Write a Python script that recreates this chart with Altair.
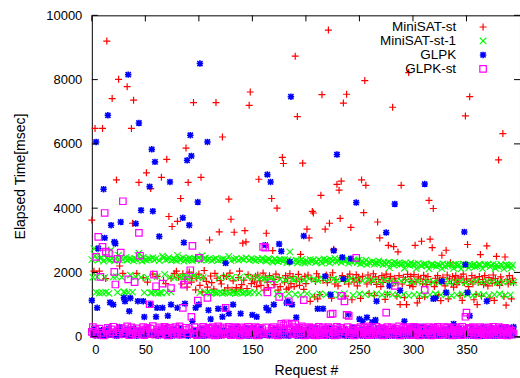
import altair as alt
import pandas as pd

# ---- data: elapsed time [msec] per request #, one value per request ----
minisat_st = [
    3630, 160, 2040, 6480, 110, 90, 170, 2040, 130, 140,
    6480, 100, 150, 1810, 9200, 120, 80, 140, 110, 7410,
    150, 90, 130, 4880, 100, 8010, 2200, 140, 120, 1970,
    110, 170, 90, 7780, 130, 100, 150, 6480, 3530, 7360,
    120, 140, 1970, 110, 4800, 160, 130, 90, 1830, 150,
    120, 5100, 1700, 140, 100, 4610, 130, 1950, 110, 170,
    90, 1880, 150, 120, 100, 4960, 140, 1750, 130, 1650,
    5520, 110, 3740, 160, 1820, 3430, 120, 1970, 140, 2040,
    3590, 1850, 150, 4300, 1640, 1960, 130, 1780, 5870, 1540,
    4800, 2010, 140, 1700, 1890, 7285, 120, 1460, 1820, 160,
    1950, 1600, 4960, 1395, 1830, 2060, 150, 1720, 1540, 130,
    3010, 1890, 1680, 120, 1480, 1970, 7285, 1820, 140, 3260,
    1750, 1640, 6215, 1900, 1440, 160, 1870, 1520, 4280, 1980,
    3655, 1450, 1740, 3250, 1400, 1530, 130, 1840, 2040, 1480,
    1620, 2910, 1760, 3300, 2950, 1500, 1930, 7200, 7615, 1650,
    1820, 140, 1700, 1880, 1560, 1920, 4900, 1740, 1600, 120,
    1980, 1450, 1850, 3220, 1700, 1530, 1900, 150, 4300, 2680,
    1780, 1620, 1950, 4000, 1450, 1840, 1560, 130, 5580, 5390,
    1700, 1900, 1480, 1820, 1520, 1960, 1650, 140, 1870, 1560,
    8730, 1730, 6850, 1940, 1600, 2560, 1790, 5400, 1470, 1880,
    1650, 3345, 1920, 3075, 1100, 1800, 3900, 3850, 1240, 1720,
    1960, 1180, 1860, 1310, 4400, 7530, 1750, 160, 3345, 1920,
    1680, 9540, 3530, 1850, 1200, 1990, 2720, 1640, 1780, 4740,
    1580, 4560, 3680, 4840, 1900, 7270, 1720, 1260, 7545, 1860,
    1640, 1950, 3400, 1150, 1810, 1700, 140, 1930, 1580, 1850,
    1730, 1190, 4880, 1880, 3860, 7970, 4710, 1640, 1920, 1350,
    1820, 1700, 150, 1960, 1280, 1860, 1630, 3570, 1780, 3075,
    1560, 1900, 1690, 1830, 1160, 1950, 1320, 2845, 1740, 1880,
    1580, 7140, 2805, 1820, 1700, 1260, 2640, 1900, 1000, 4710,
    1640, 1850, 1220, 1780, 1000, 1940, 8220, 1600, 1880, 1720,
    1560, 1930, 2845, 1700, 1050, 1860, 1190, 1800, 2970, 1650,
    1910, 1240, 1780, 1620, 1870, 4240, 3035, 1700, 2770, 3990,
    1560, 1820, 1680, 1900, 1300, 1760, 1120, 2535, 1850, 1710,
    1580, 2690, 1920, 1180, 1800, 2300, 1650, 1870, 1540, 1760,
    1900, 1620, 1820, 1700, 1280, 1860, 1130, 1950, 1680, 6870,
    1800, 2870, 1560, 7470, 1720, 1900, 1640, 1150, 1830, 1320,
    1000, 1690, 1870, 2555, 1260, 1780, 1620, 1900, 1700, 2825,
    1580, 1840, 1200, 1760, 1660, 1920, 1130, 1810, 2500, 1680,
    5500, 1600, 1860, 1720, 6320, 1250, 2480, 980, 1780, 1640,
    1900, 1700, 1180, 1820, 1680,
]

minisat_st_1 = [
    2400, 1850, 2740, 2520, 1380, 1860, 2380, 1360, 2430, 2470,
    1370, 2350, 1840, 1390, 2450, 2410, 1350, 2380, 2700, 2440,
    1860, 2360, 2420, 1870, 1380, 2540, 2390, 2450, 1850, 2400,
    1400, 1360, 2470, 2380, 1370, 2430, 1920, 2410, 1390, 2360,
    2440, 1860, 2390, 2530, 2600, 2420, 1850, 2350, 2470, 1370,
    2400, 2380, 1840, 2440, 2410, 1360, 1380, 2460, 2390, 1390,
    2430, 1870, 1350, 2370, 1380, 1360, 2510, 2450, 1940, 2390,
    1370, 2410, 2460, 1850, 1390, 2380, 2430, 1830, 2400, 2370,
    2530, 1860, 2410, 2390, 1850, 2460, 2350, 1870, 2420, 1840,
    2380, 2450, 1830, 2400, 2370, 1900, 2430, 2410, 2390, 1850,
    2460, 1370, 2380, 2520, 1840, 2400, 2450, 1360, 2390, 1380,
    2430, 1350, 2370, 1390, 2410, 1370, 2440, 1360, 2380, 1840,
    1380, 2400, 1350, 2420, 1370, 2390, 1860, 1390, 2500, 1360,
    2370, 1850, 1380, 2410, 1350, 2440, 1370, 2380, 1840, 1390,
    2420, 1360, 2400, 1380, 2450, 1870, 1350, 2390, 1370, 2430,
    1840, 2400, 1390, 2370, 1850, 2420, 1360, 2380, 1830, 2440,
    2410, 1800, 2380, 2350, 1760, 2430, 2400, 1820, 2360, 2320,
    1780, 2420, 2370, 1330, 2340, 2400, 1790, 2380, 1310, 2350,
    2410, 1750, 2300, 2390, 1340, 2640, 2360, 1800, 2330, 1770,
    1320, 2380, 2300, 1790, 2350, 1300, 2410, 2330, 1760, 2290,
    2370, 1340, 2320, 1810, 2400, 2350, 1280, 2380, 1780, 2310,
    2340, 1750, 2400, 1330, 2360, 2290, 1800, 2420, 2350, 1310,
    2380, 1770, 2300, 2410, 1320, 2350, 1790, 2440, 2330, 1760,
    2360, 1300, 2400, 2310, 1780, 2380, 1340, 2350, 2420, 1750,
    2290, 2370, 1810, 2330, 1290, 2400, 2360, 1770, 2310, 2380,
    1330, 2270, 2350, 1740, 2300, 1320, 2380, 2250, 1780, 2320,
    2290, 1310, 2340, 1750, 2260, 2310, 1340, 2280, 2360, 1720,
    2300, 1300, 2240, 2330, 1760, 2270, 1330, 2310, 2150, 1740,
    2280, 1310, 2230, 2320, 1700, 2260, 1290, 2300, 2240, 1730,
    2270, 1320, 2130, 2290, 1750, 2250, 1280, 2220, 2300, 1710,
    2240, 1300, 2260, 2120, 1730, 2280, 1320, 2230, 2200, 1690,
    2250, 1290, 2270, 2210, 1720, 2110, 1310, 2240, 2260, 1700,
    2220, 1330, 2190, 2250, 1680, 2230, 1300, 2120, 2270, 1740,
    2180, 1320, 2240, 2210, 1690, 2260, 1280, 2230, 2130, 1710,
    2250, 1300, 2200, 2240, 1720, 2110, 1330, 2260, 2220, 1680,
    2230, 1310, 2140, 2250, 1700, 2210, 1290, 2240, 2180, 1730,
    2200, 1320, 2260, 2230, 1690, 2120, 1300, 2250, 2210, 1720,
    2240, 1280, 2180, 2220, 1710, 2260, 1310, 2130, 2230, 1680,
    2190, 1330, 2250, 2210, 1700, 2110, 1290, 2240, 2200, 1720,
    2220, 1300, 2140, 2230, 1690,
]

glpk = [
    1130, 60, 250, 40, 6060, 900, 2745, 120, 30, 200,
    80, 4590, 3075, 150, 40, 6890, 260, 1065, 3470, 70,
    1000, 2950, 2900, 30, 180, 90, 300, 3570, 50, 140,
    1210, 1100, 60, 220, 8155, 795, 1200, 40, 110, 260,
    70, 3520, 30, 1105, 6650, 190, 3935, 80, 1105, 615,
    40, 250, 120, 60, 4670, 1010, 5830, 3905, 90, 5440,
    620, 900, 30, 3120, 210, 70, 900, 150, 40, 280,
    60, 650, 100, 4815, 1000, 30, 230, 80, 170, 50,
    900, 140, 40, 260, 70, 3700, 2930, 1030, 110, 5490,
    30, 3470, 6270, 5625, 480, 200, 60, 900, 150, 4190,
    1000, 8500, 40, 240, 90, 30, 180, 70, 6060, 825,
    50, 550, 220, 40, 130, 60, 290, 80, 870, 30,
    160, 40, 620, 210, 870, 2290, 60, 140, 720, 30,
    250, 70, 1000, 40, 180, 90, 300, 50, 120, 720,
    30, 210, 60, 140, 40, 270, 80, 30, 190, 60,
    680, 40, 230, 90, 620, 30, 160, 70, 250, 40,
    110, 60, 2850, 900, 5045, 820, 40, 4815, 200, 70,
    1000, 30, 240, 80, 150, 2885, 50, 2660, 120, 40,
    270, 60, 1050, 1100, 30, 2330, 7470, 1000, 90, 190,
    40, 600, 120, 30, 260, 70, 140, 40, 3135, 80,
    210, 30, 150, 60, 290, 40, 120, 70, 30, 250,
    60, 870, 180, 40, 100, 30, 870, 230, 1880, 50,
    140, 30, 270, 1310, 60, 190, 2680, 40, 110, 5670,
    30, 250, 80, 150, 2470, 1800, 40, 200, 60, 30,
    700, 170, 2430, 50, 290, 90, 30, 4175, 140, 60,
    550, 40, 220, 480, 70, 30, 160, 600, 50, 260,
    90, 40, 450, 180, 30, 520, 1105, 60, 240, 80,
    30, 150, 60, 270, 40, 3240, 110, 30, 1580, 200,
    60, 40, 250, 4130, 90, 30, 170, 60, 1440, 40,
    220, 70, 480, 30, 140, 60, 280, 40, 100, 30,
    190, 300, 50, 260, 30, 300, 120, 40, 300, 70,
    300, 4750, 30, 160, 60, 240, 40, 90, 30, 1180,
    270, 1200, 60, 30, 180, 50, 130, 1725, 40, 230,
    70, 1375, 30, 150, 60, 280, 40, 110, 400, 30,
    200, 60, 40, 250, 90, 30, 170, 50, 3260, 2245,
    40, 1375, 120, 650, 30, 260, 70, 40, 190, 30,
    150, 60, 240, 40, 90, 30, 300, 200, 50, 1105,
    30, 180, 60, 270, 40, 120, 30, 220, 70, 40,
    160, 30, 250, 300, 60, 40, 190, 30, 110, 280,
    50, 40, 230, 70, 300,
]

glpk_st = [
    150, 300, 80, 220, 2485, 60, 3105, 250, 1860, 120,
    2795, 40, 3850, 2650, 180, 280, 2600, 90, 230, 140,
    310, 2015, 1625, 60, 2420, 200, 130, 2620, 270, 4215,
    80, 240, 160, 320, 1785, 50, 210, 290, 110, 180,
    1700, 70, 260, 140, 3230, 2520, 200, 90, 300, 50,
    230, 160, 280, 80, 1010, 250, 120, 330, 1930, 60,
    1570, 210, 150, 290, 70, 240, 1650, 180, 310, 100,
    260, 40, 200, 280, 1510, 130, 230, 70, 300, 160,
    90, 250, 320, 140, 60, 900, 1620, 210, 280, 110,
    1757, 240, 2068, 620, 2825, 80, 300, 190, 50, 1126,
    2452, 170, 260, 90, 310, 140, 220, 60, 1207, 280,
    120, 250, 70, 300, 180, 40, 230, 150, 320, 90,
    260, 60, 200, 290, 110, 896, 240, 80, 310, 150,
    50, 270, 190, 120, 300, 70, 250, 160, 40, 220,
    290, 100, 180, 60, 260, 140, 310, 80, 230, 170,
    60, 250, 120, 300, 200, 40, 280, 150, 90, 240,
    2793, 110, 2772, 290, 1380, 170, 60, 1622, 250, 130,
    300, 80, 220, 160, 40, 1238, 270, 400, 100, 350,
    190, 420, 60, 380, 1104, 250, 120, 410, 300, 80,
    390, 150, 230, 60, 280, 110, 320, 170, 1136, 40,
    260, 140, 90, 300, 220, 60, 180, 270, 120, 40,
    250, 160, 310, 80, 200, 130, 290, 50, 240, 110,
    180, 300, 70, 700, 260, 720, 140, 40, 220, 310,
    90, 170, 280, 1270, 60, 230, 1100, 150, 680, 300,
    650, 80, 210, 130, 270, 40, 190, 2452, 100, 250,
    160, 300, 60, 220, 140, 280, 80, 190, 320, 50,
    240, 130, 290, 70, 200, 160, 310, 100, 250, 60,
    180, 270, 40, 220, 140, 752, 300, 80, 230, 120,
    290, 60, 190, 1580, 250, 100, 170, 320, 40, 210,
    130, 280, 70, 240, 160, 300, 90, 200, 50, 260,
    150, 310, 80, 230, 120, 270, 40, 190, 290, 100,
    220, 1457, 60, 250, 170, 300, 110, 40, 200, 280,
    90, 230, 160, 310, 50, 260, 140, 190, 70, 300,
    210, 120, 280, 300, 60, 240, 170, 40, 220, 130,
    290, 80, 200, 150, 260, 50, 310, 180, 100, 620,
    752, 230, 70, 280, 250, 140, 300, 60, 200, 120,
    260, 40, 190, 300, 110, 230, 80, 270, 150, 50,
    220, 290, 100, 180, 60, 310, 140, 240, 80, 200,
    300, 130, 50, 260, 170, 90, 280, 210, 40, 150,
    240, 120, 190, 60, 100,
]

series_names = ["MiniSAT-st", "MiniSAT-st-1", "GLPK", "GLPK-st"]
series_values = [minisat_st, minisat_st_1, glpk, glpk_st]
series_colors = ["#ff0000", "#00ff00", "#0000ff", "#ff00ff"]
x_ticks = [0, 50, 100, 150, 200, 250, 300, 350]
y_ticks = [0, 2000, 4000, 6000, 8000, 10000]

# ---- layout ----
W, H = 429, 322
TICK = 6
FONT = "Liberation Sans"

plus_path = "M-1,0L1,0M0,-1L0,1"
cross_path = "M-1,-1L1,1M-1,1L1,-1"
star_path = "M-1,0L1,0M0,-1L0,1M-0.8,-0.8L0.8,0.8M-0.8,0.8L0.8,-0.8"
shapes = [
    dict(shape=plus_path, size=49, strokeWidth=1.2, filled=False),
    dict(shape=cross_path, size=42, strokeWidth=1.1, filled=False),
    dict(shape=star_path, size=42, strokeWidth=1.6, filled=False),
    dict(shape="square", size=42, strokeWidth=1.2, filled=False),
]

x_scale = alt.Scale(domain=[0, 400], nice=False, zero=False)
y_scale = alt.Scale(domain=[0, 10000], nice=False)
x_axis = alt.Axis(values=x_ticks, title="Request #", labelPadding=7, format="d",
                  titleY=34, titleBaseline="middle")
y_axis = alt.Axis(values=y_ticks, title="Elapsed Time[msec]", labelPadding=10, format="d",
                  titleX=-71, titleY=H / 2, titleAngle=270, titleBaseline="middle",
                  titleAlign="center")

layers = []
for name, vals, col, sh in zip(series_names, series_values, series_colors, shapes):
    df = pd.DataFrame({"x": list(range(len(vals))), "y": vals})
    layers.append(
        alt.Chart(df).mark_point(color=col, opacity=1, **sh).encode(
            x=alt.X("x:Q", scale=x_scale, axis=x_axis),
            y=alt.Y("y:Q", scale=y_scale, axis=y_axis),
        )
    )

# inward ticks on all four sides (gnuplot style)
xt = alt.Chart(pd.DataFrame({"x": x_ticks}))
yt = alt.Chart(pd.DataFrame({"y": y_ticks}))
ticks = [
    xt.mark_rule(color="black", strokeWidth=1).encode(
        x=alt.X("x:Q", scale=x_scale, axis=x_axis), y=alt.value(0), y2=alt.value(TICK)),
    xt.mark_rule(color="black", strokeWidth=1).encode(
        x=alt.X("x:Q", scale=x_scale, axis=x_axis), y=alt.value(H - TICK), y2=alt.value(H)),
    yt.mark_rule(color="black", strokeWidth=1).encode(
        y=alt.Y("y:Q", scale=y_scale, axis=y_axis), x=alt.value(0), x2=alt.value(TICK)),
    yt.mark_rule(color="black", strokeWidth=1).encode(
        y=alt.Y("y:Q", scale=y_scale, axis=y_axis), x=alt.value(W - TICK), x2=alt.value(W)),
]

# legend (gnuplot style: label right-aligned, symbol to the right)
leg_rows = [11.7, 25.7, 39.7, 53.7]
one = alt.Data(values=[{"a": 1}])
legend = []
for name, col, sh, ry in zip(series_names, series_colors, shapes, leg_rows):
    legend.append(
        alt.Chart(one).mark_text(align="right", baseline="middle", font=FONT,
                                 fontSize=13.5, color="black").encode(
            x=alt.value(365), y=alt.value(ry), text=alt.value(name))
    )
    legend.append(
        alt.Chart(one).mark_point(color=col, opacity=1, **sh).encode(
            x=alt.value(392), y=alt.value(ry))
    )

chart = alt.layer(*layers, *ticks, *legend).properties(
    width=W, height=H,
    autosize=alt.AutoSizeParams(type="none"),
    padding={"left": 92, "top": 15, "right": 0, "bottom": 41},
    background="white",
).configure_view(
    stroke="black", strokeWidth=1
).configure_axis(
    grid=False, domain=False, ticks=False,
    labelFont=FONT, labelFontSize=13, labelColor="black",
    titleFont=FONT, titleFontSize=14, titleFontWeight="normal", titleColor="black",
)

chart.save("out.html", embed_options={"renderer": "svg", "actions": False})
